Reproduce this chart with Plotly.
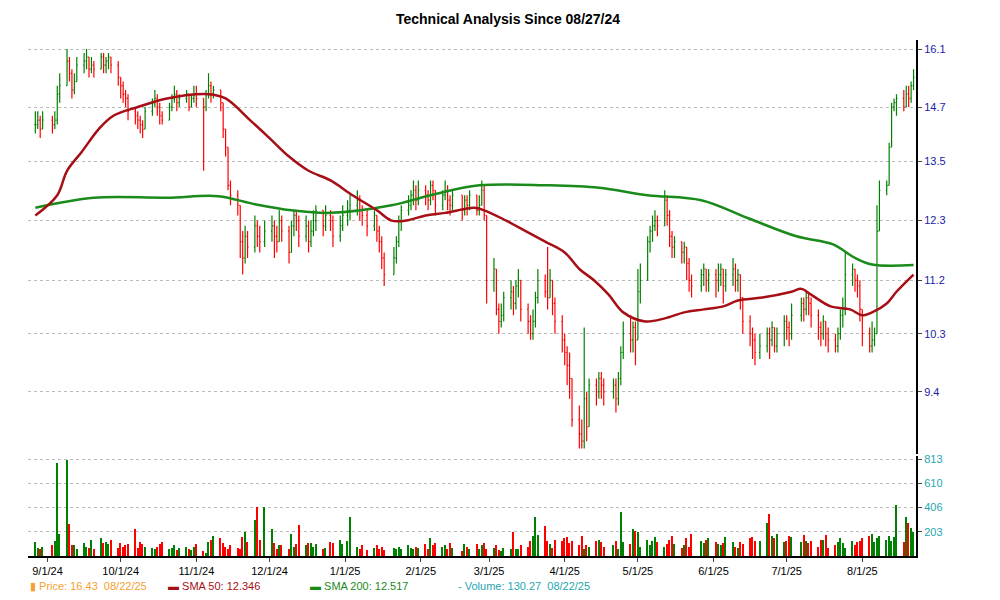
import pandas as pd
import plotly.graph_objects as go
from plotly.subplots import make_subplots

holidays = ["2024-09-02","2024-11-28","2024-12-25","2025-01-01","2025-01-09","2025-01-20",
            "2025-02-17","2025-04-18","2025-05-26","2025-06-19","2025-07-04"]

# (close, high, low) per trading day, month by month
aug24 = [(14.3,14.6,14.1),(14.4,14.6,14.2),(14.2,14.5,14.0),(14.4,14.6,14.2)]
sep24 = [(14.3,14.5,14.1),(14.4,14.6,14.2),(15.0,15.2,14.3),(15.2,15.5,14.8),(15.8,16.1,15.2),
         (15.5,15.9,15.3),(15.1,15.6,14.9),(15.3,15.5,15.0),(15.7,15.9,15.3),(15.8,16.0,15.5),
         (15.9,16.1,15.6),(15.6,15.9,15.4),(15.7,15.9,15.5),(15.6,15.8,15.4),(15.9,16.0,15.6),
         (15.7,16.0,15.5),(15.8,15.9,15.5),(15.9,16.0,15.6),(15.7,15.9,15.5),(15.4,15.8,15.2)]
oct24 = [(15.2,15.4,14.9),(15.0,15.3,14.8),(14.9,15.1,14.7),(14.6,15.0,14.4),(14.5,14.7,14.3),
         (14.4,14.6,14.2),(14.3,14.5,14.1),(14.2,14.4,14.0),(14.6,14.7,14.2),(14.8,14.9,14.5),
         (14.9,15.1,14.7),(14.7,15.0,14.5),(14.5,14.8,14.3),(14.4,14.6,14.3),(14.7,14.8,14.4),
         (14.9,15.0,14.6),(15.0,15.2,14.8),(14.8,15.1,14.6),(14.9,15.0,14.7),(15.0,15.1,14.8),
         (14.7,15.0,14.6),(14.9,15.0,14.7),(15.0,15.2,14.8)]
nov24 = [(14.9,15.2,14.7),(14.7,14.9,13.3),(15.0,15.1,14.6),(15.2,15.5,14.9),(15.0,15.3,14.8),
         (15.1,15.2,14.9),(14.8,15.1,14.6),(14.2,14.8,14.0),(13.8,14.1,13.6),(13.0,13.7,12.9),
         (12.8,13.1,12.6),(12.6,12.9,12.4),(11.9,12.6,11.6),(11.6,12.1,11.3),(12.0,12.2,11.5),
         (11.8,12.1,11.6),(12.2,12.4,11.7),(12.0,12.3,11.8),(11.9,12.2,11.7),(12.1,12.3,11.8)]
dec24 = [(12.2,12.4,11.9),(12.0,12.3,11.6),(11.9,12.2,11.7),(12.3,12.5,11.9),(12.1,12.4,11.9),
         (11.7,12.2,11.5),(12.2,12.3,11.7),(12.4,12.5,12.0),(12.3,12.5,12.1),(12.0,12.4,11.8),
         (12.2,12.4,11.9),(11.9,12.3,11.7),(12.1,12.3,11.8),(12.3,12.5,12.0),(12.5,12.6,12.1),
         (12.2,12.5,12.0),(12.4,12.6,12.1),(12.3,12.5,12.1),(12.0,12.4,11.8),(12.2,12.4,11.9),
         (12.4,12.6,12.1)]
jan25 = [(12.5,12.7,12.2),(12.6,12.8,12.3),(12.7,12.9,12.4),(12.5,12.8,12.3),(12.4,12.6,12.2),
         (12.2,12.5,12.0),(12.4,12.5,12.1),(12.1,12.4,11.9),(11.9,12.2,11.7),(11.6,12.0,11.4),
         (11.3,11.7,11.1),(11.6,11.8,11.3),(11.9,12.0,11.5),(12.3,12.4,11.8),(12.5,12.6,12.1),
         (12.6,12.8,12.4),(12.8,12.9,12.5),(12.9,13.1,12.6),(12.7,13.0,12.5),(12.9,13.1,12.6)]
feb25 = [(12.8,13.0,12.6),(12.7,12.9,12.5),(13.0,13.1,12.6),(12.9,13.1,12.7),(12.6,12.9,12.4),
         (12.8,12.9,12.5),(12.9,13.1,12.7),(12.7,13.0,12.5),(12.6,12.8,12.4),(12.8,12.9,12.5),
         (12.5,12.8,12.3),(12.7,12.8,12.4),(12.6,12.8,12.4),(12.8,12.9,12.5),(12.5,12.8,12.4),
         (12.6,12.8,12.4),(12.9,13.1,12.6),(12.4,13.0,12.3),(11.2,12.4,10.8)]
mar25 = [(11.4,11.6,11.0),(10.7,11.4,10.6),(10.5,10.8,10.3),(10.6,10.8,10.4),(10.9,11.0,10.5),
         (11.0,11.2,10.7),(10.8,11.1,10.6),(11.1,11.2,10.7),(11.2,11.4,10.9),(10.7,11.2,10.5),
         (10.5,10.8,10.3),(10.3,10.6,10.2),(10.5,10.7,10.2),(10.9,11.0,10.4),(11.2,11.4,10.8),
         (11.0,11.3,10.9),(10.9,11.8,10.7),(11.2,11.4,10.9),(10.8,11.2,10.6),(10.5,10.9,10.3),
         (10.2,10.6,10.0)]
apr25 = [(10.0,10.3,9.8),(9.8,10.1,9.5),(9.6,10.0,9.3),(9.0,9.6,8.9),(8.8,9.2,8.6),
         (8.7,9.0,8.6),(9.3,10.4,8.6),(8.9,9.4,8.7),(9.5,9.6,8.9),(9.4,9.6,9.2),
         (9.6,9.7,9.3),(9.5,9.7,9.3),(9.4,9.6,9.2),(9.5,9.6,9.3),(9.3,9.6,9.1),
         (9.6,9.7,9.2),(10.0,10.1,9.5),(10.3,10.5,9.9),(10.2,10.6,10.0),(10.4,10.5,10.0),
         (10.2,10.5,9.8)]
may25 = [(11.0,11.4,10.5),(11.2,11.5,10.8),(11.9,12.0,11.3),(12.1,12.2,11.7),(12.2,12.4,11.9),
         (12.3,12.5,12.1),(12.2,12.4,12.0),(12.7,12.9,12.3),(12.4,12.8,12.2),(12.0,12.5,11.8),
         (11.8,12.1,11.6),(11.9,12.0,11.6),(11.7,11.9,11.5),(11.8,11.9,11.5),(11.5,11.8,11.2),
         (11.2,11.6,11.0),(11.1,11.3,10.9),(11.3,11.4,11.0),(11.4,11.5,11.1),(11.2,11.4,11.0),
         (11.3,11.4,11.0)]
jun25 = [(11.2,11.4,10.9),(11.3,11.5,11.0),(11.4,11.5,11.1),(11.1,11.4,10.8),(11.3,11.4,11.0),
         (11.4,11.6,11.1),(11.2,11.5,11.0),(11.3,11.4,11.0),(10.9,11.3,10.7),(10.5,10.9,10.3),
         (10.3,10.6,10.1),(10.2,10.4,9.9),(10.0,10.3,9.8),(10.1,10.3,9.9),(10.3,10.4,10.0),
         (10.2,10.4,9.9),(10.4,10.5,10.1),(10.1,10.4,10.0),(10.3,10.4,10.0),(10.5,10.6,10.1)]
jul25 = [(10.4,10.6,10.2),(10.3,10.5,10.1),(10.6,10.8,10.2),(10.8,10.9,10.5),(10.7,10.9,10.5),
         (10.9,11.0,10.6),(10.8,11.0,10.6),(10.6,10.9,10.4),(10.4,10.7,10.2),(10.3,10.5,10.1),
         (10.5,10.6,10.2),(10.3,10.5,10.1),(10.2,10.4,10.0),(10.1,10.3,10.0),(10.3,10.4,10.0),
         (10.6,10.7,10.2),(10.7,10.9,10.4),(11.3,11.7,10.6),(11.4,11.5,11.1),(11.2,11.4,11.0),
         (11.1,11.3,10.9),(10.7,11.2,10.5)]
aug25 = [(10.3,10.7,10.1),(10.1,10.4,10.0),(10.2,10.5,10.0),(10.3,10.4,10.1),
         (12.1,12.6,11.9),(12.9,13.1,12.7),(13.0,13.1,12.8),(13.8,13.9,13.1),
         (14.7,14.8,13.9),(14.8,14.9,14.6),(14.9,15.0,14.5),(14.7,15.1,14.6),(15.0,15.2,14.7),
         (14.9,15.2,14.7),(15.2,15.3,14.8),(15.4,15.6,15.1)]

volume = [120,70,60,80, 90,130,780,190,810,270,90,95,60,110,80,70,140,60,150,110,120,100,140,70,
          110,80,90,100,230,70,120,100,80,70,60,80,100,120,60,70,90,50,70,80,60,50,80,100,40,30,
          120,140,170,150,110,80,60,90,70,60,160,200,120,300,410,140,410,230,110,60,90,90,
          60,190,80,100,260,90,110,110,80,100,60,70,120,110,140,100,130,330,80,60,90,50,
          70,90,60,80,50,70,60,80,60,90,70,60,80,70,100,60,150,90,110,80,
          90,60,110,70,40,100,80,60,100,60,90,110,60,70,90,50,40,70,60,200,
          60,60,90,80,130,170,330,180,250,130,100,70,140,130,150,160,110,130,90,170,60,
          90,80,130,140,120,80,90,130,60,370,120,100,230,210,200,80,140,90,130,160,120,
          80,100,140,170,100,70,90,150,80,190,130,110,140,150,120,100,90,110,160,120,80,
          70,120,100,150,160,130,130,280,350,170,150,190,120,130,170,160,120,180,130,110,
          130,80,140,140,180,70,90,120,150,110,70,130,90,120,130,150,170,190,120,150,170,
          140,170,130,160,430,120,330,280,240,200,160,140,210,150,140,170,130]

sma50_dates = ["2024-08-27","2024-09-05","2024-09-09","2024-09-15","2024-09-22","2024-09-28","2024-10-08",
               "2024-10-20","2024-11-06","2024-11-13","2024-11-23","2024-12-01","2024-12-09","2024-12-17",
               "2024-12-26","2025-01-04","2025-01-14","2025-01-20","2025-01-26","2025-02-03","2025-02-11",
               "2025-02-23","2025-02-27","2025-03-08","2025-03-16","2025-03-24","2025-04-01","2025-04-07",
               "2025-04-13","2025-04-19","2025-04-25","2025-05-04","2025-05-12","2025-05-20","2025-05-28",
               "2025-06-05","2025-06-11","2025-06-21","2025-07-03","2025-07-07","2025-07-11","2025-07-19",
               "2025-07-27","2025-08-01","2025-08-05","2025-08-11","2025-08-15","2025-08-22"]
sma50_vals = [12.4,12.8,13.3,13.7,14.2,14.5,14.7,14.9,15.0,14.9,14.4,14.0,13.6,13.3,13.1,12.8,12.5,12.3,
              12.3,12.4,12.45,12.55,12.5,12.3,12.1,11.9,11.7,11.4,11.2,10.95,10.65,10.5,10.55,10.65,10.7,
              10.75,10.85,10.9,11.0,11.05,10.95,10.75,10.7,10.6,10.65,10.8,11.0,11.3]
sma200_dates = ["2024-08-27","2024-09-20","2024-10-20","2024-11-10","2024-11-25","2024-12-10","2024-12-26",
                "2025-01-20","2025-02-05","2025-02-25","2025-03-25","2025-04-15","2025-05-05","2025-05-27",
                "2025-06-15","2025-07-05","2025-07-20","2025-07-29","2025-08-05","2025-08-22"]
sma200_vals = [12.55,12.75,12.75,12.78,12.62,12.5,12.45,12.6,12.8,13.0,13.0,12.95,12.8,12.7,12.35,12.0,
               11.85,11.6,11.48,11.47]

months = [aug24,sep24,oct24,nov24,dec24,jan25,feb25,mar25,apr25,may25,jun25,jul25,aug25]
rows = [r for m in months for r in m]
dates = pd.bdate_range("2024-08-27","2025-08-22",freq="C",holidays=holidays)
n = min(len(rows), len(dates))
dates = dates[-n:]; rows = rows[-n:]
close = [r[0] for r in rows]; high = [r[1] for r in rows]; low = [r[2] for r in rows]
opn = [close[0]] + close[:-1]
high = [max(h,o,c) for h,o,c in zip(high,opn,close)]
low = [min(l,o,c) for l,o,c in zip(low,opn,close)]
vol = (volume + [100]*n)[:n]
vcol = ["#008000" if c >= o else "#FF0000" for o,c in zip(opn,close)]

fig = make_subplots(rows=2, cols=1, shared_xaxes=True, row_heights=[0.805,0.195], vertical_spacing=0.004)
fig.add_trace(go.Ohlc(x=dates, open=opn, high=high, low=low, close=close, tickwidth=0.4,
                      increasing_line=dict(color="#008000", width=1.2),
                      decreasing_line=dict(color="#FF0000", width=1.2), hoverinfo="skip"), 1, 1)
fig.add_trace(go.Scatter(x=pd.to_datetime(sma200_dates), y=sma200_vals, mode="lines", line_shape="spline",
                         line=dict(color="#1a8a1a", width=2.5)), 1, 1)
fig.add_trace(go.Scatter(x=pd.to_datetime(sma50_dates), y=sma50_vals, mode="lines", line_shape="spline",
                         line=dict(color="#A50F15", width=2.5)), 1, 1)
fig.add_trace(go.Bar(x=dates, y=vol, marker_color=vcol, marker_line_width=0, width=86400000*0.6), 2, 1)

grid = dict(showgrid=True, gridcolor="#bbbbbb", griddash="dot", gridwidth=1)
fig.update_layout(width=1000, height=600, margin=dict(l=20, r=92, t=32, b=52),
                  plot_bgcolor="white", paper_bgcolor="white", showlegend=False, bargap=0,
                  font=dict(family="Liberation Sans, Arial", size=11),
                  title=dict(text="<b>Technical Analysis Since 08/27/24</b>", x=0.5, y=0.99,
                             xanchor="center", yanchor="top", font=dict(size=14, color="black")))
fig.update_xaxes(range=["2024-08-24","2025-08-23"], rangeslider_visible=False, showgrid=False)
fig.update_xaxes(row=2, col=1, tickvals=pd.date_range("2024-09-01","2025-08-01",freq="MS"),
                 tickformat="%-m/%-d/%y", ticks="outside", ticklen=4, showline=True,
                 linecolor="black", linewidth=2, tickfont=dict(color="black", size=11))
fig.update_yaxes(row=1, col=1, type="log", side="right", range=[0.931, 1.213],
                 tickvals=[9.4,10.3,11.2,12.3,13.5,14.7,16.1], ticktext=["9.4","10.3","11.2","12.3","13.5","14.7","16.1"],
                 tickfont=dict(color="#1a1aa6", size=11), ticks="outside", ticklen=4,
                 showline=True, linecolor="black", linewidth=2, zeroline=False, **grid)
fig.update_yaxes(row=2, col=1, side="right", range=[0, 840], tickvals=[203,406,610,813],
                 tickfont=dict(color="#1fa6b0", size=11), ticks="outside", ticklen=4,
                 showline=True, linecolor="black", linewidth=2, zeroline=False, **grid)

legend = [("▮ Price: 16.43  08/22/25", "#F5A030", 0.0), ("▬ SMA 50: 12.346", "#A50F15", 0.155),
          ("▬ SMA 200: 12.517", "#1a8a1a", 0.315), ("- Volume: 130.27  08/22/25", "#1fa6b0", 0.482)]
for t, c, x in legend:
    fig.add_annotation(text=t, x=x, y=-0.058, xref="paper", yref="paper", xanchor="left", yanchor="middle",
                       showarrow=False, font=dict(color=c, size=11))
fig.write_html("out.html")
